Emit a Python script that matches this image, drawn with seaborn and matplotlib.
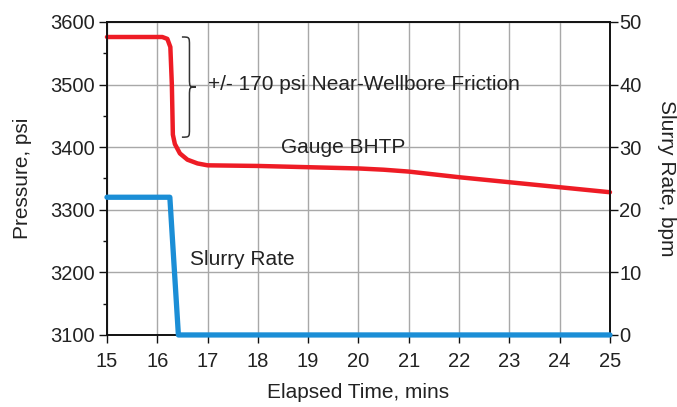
import numpy as np
import matplotlib
matplotlib.use("Agg")
import matplotlib.pyplot as plt
from matplotlib.path import Path
from matplotlib.patches import PathPatch
from matplotlib.ticker import MultipleLocator
import seaborn as sns

# Gauge bottom-hole treating pressure (psi) vs elapsed time (min)
bhtp_time = [15.0, 16.1, 16.2, 16.26, 16.29, 16.31, 16.35, 16.45, 16.6, 16.8, 17.0,
             18.0, 19.0, 20.0, 20.5, 21.0, 22.0, 23.0, 24.0, 25.0]
bhtp_psi = [3576, 3576, 3573, 3560, 3500, 3420, 3405, 3390, 3380, 3374, 3371,
            3370, 3368, 3366, 3364, 3361, 3352, 3344, 3336, 3328]

# Slurry rate (bpm) vs elapsed time (min)
rate_time = [15.0, 16.25, 16.42, 25.0]
rate_bpm = [22, 22, 0, 0]

x_ticks = list(range(15, 26))
p_ticks = [3100, 3200, 3300, 3400, 3500, 3600]
r_ticks = [0, 10, 20, 30, 40, 50]

sns.set_theme(style="white")
plt.rcParams["font.family"] = ["Liberation Sans", "DejaVu Sans"]
text_color = "#222222"
tick_fs = 14.5
label_fs = 15

fig = plt.figure(figsize=(6.77, 4.07), dpi=100)
ax = fig.add_axes([0.158, 0.177, 0.743, 0.769])
ax2 = ax.twinx()

ax.set_xlim(15, 25)
ax.set_ylim(3100, 3600)
ax2.set_ylim(0, 50)

ax.set_xticks(x_ticks)
ax.set_yticks(p_ticks)
ax.yaxis.set_minor_locator(MultipleLocator(50))
ax2.set_yticks(r_ticks)

ax.grid(True, which="major", color="#a8a8a8", linewidth=1.0)
ax.set_axisbelow(True)

sns.lineplot(x=rate_time, y=rate_bpm, ax=ax2, color="#1b8ed6", linewidth=3.8,
             sort=False, clip_on=False, zorder=3)
sns.lineplot(x=bhtp_time, y=bhtp_psi, ax=ax, color="#ee1c25", linewidth=3.2,
             sort=False, clip_on=False, zorder=3)

for a in (ax, ax2):
    for s in a.spines.values():
        s.set_color("#111111")
        s.set_linewidth(1.2)

ax.tick_params(axis="x", which="major", direction="out", length=6, width=1,
               color="#111111", labelsize=tick_fs, labelcolor=text_color, pad=6,
               bottom=True)
ax.tick_params(axis="y", which="major", direction="out", length=6, width=1,
               color="#111111", labelsize=tick_fs, labelcolor=text_color, pad=3,
               left=True)
ax.tick_params(axis="y", which="minor", direction="out", length=3, width=1,
               color="#111111", left=True)
ax2.tick_params(axis="y", direction="out", length=6, width=1, color="#111111",
                labelsize=tick_fs, labelcolor=text_color, pad=0.5, right=True)

ax.set_xlabel("Elapsed Time, mins", fontsize=label_fs, color=text_color, labelpad=9)
ax.set_ylabel("Pressure, psi", fontsize=label_fs, color=text_color, labelpad=13)
ax2.set_ylabel("Slurry Rate, bpm", fontsize=label_fs, color=text_color,
               rotation=270, labelpad=25)

# Curly brace marking the near-wellbore friction drop
x0, w, t, d = 16.49, 0.15, 0.13, 14
y_top, y_bot = 3576, 3416
y_mid = (y_top + y_bot) / 2
xv = x0 + w
verts = [
    (x0, y_top),
    (xv, y_top), (xv, y_top), (xv, y_top - d),
    (xv, y_mid + d),
    (xv, y_mid), (xv, y_mid), (xv + t, y_mid),
    (xv, y_mid), (xv, y_mid), (xv, y_mid - d),
    (xv, y_bot + d),
    (xv, y_bot), (xv, y_bot), (x0, y_bot),
]
codes = ([Path.MOVETO] + [Path.CURVE4] * 3 + [Path.LINETO] + [Path.CURVE4] * 6
         + [Path.LINETO] + [Path.CURVE4] * 3)
ax.add_patch(PathPatch(Path(verts, codes), fill=False, edgecolor="#333333",
                       linewidth=1.1, zorder=4))

ax.text(17.0, 3500, "+/- 170 psi Near-Wellbore Friction", fontsize=label_fs,
        color=text_color, va="center", ha="left")
ax.text(19.7, 3400, "Gauge BHTP", fontsize=label_fs, color=text_color,
        va="center", ha="center")
ax.text(17.7, 3220, "Slurry Rate", fontsize=label_fs, color=text_color,
        va="center", ha="center")

fig.savefig("out.png", dpi=100)
